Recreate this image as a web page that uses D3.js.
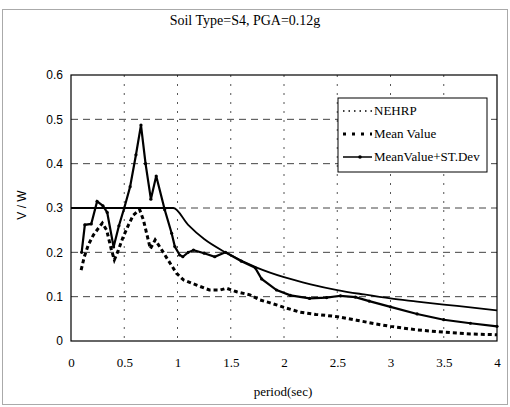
<!DOCTYPE html>
<html>
<head>
<meta charset="utf-8">
<script src="https://cdn.jsdelivr.net/npm/d3@7"></script>
<style>
  body { margin: 0; background: #fff; }
  svg { display: block; }
</style>
</head>
<body>
<script>
// Values
var xTicks = [0, 0.5, 1, 1.5, 2, 2.5, 3, 3.5, 4];
var yTicks = [0, 0.1, 0.2, 0.3, 0.4, 0.5, 0.6];

// NEHRP design spectrum
var nehrpT = [0, 0.96, 1.1, 1.25, 1.45, 1.75, 2, 2.25, 2.5, 2.75, 3, 3.25, 3.5, 3.75, 4];
var nehrpV = [0.3, 0.3, 0.262, 0.23, 0.2, 0.165, 0.144, 0.128, 0.115, 0.105, 0.096, 0.089, 0.082, 0.076, 0.069];

// Mean value
var meanT = [0.095, 0.125, 0.163, 0.21, 0.256, 0.294, 0.335, 0.38, 0.407, 0.445, 0.49, 0.54, 0.585, 0.645, 0.68, 0.71, 0.745, 0.79, 0.84, 0.9, 0.99, 1.055, 1.18, 1.3, 1.4, 1.46, 1.555, 1.68, 1.77, 1.87, 2.0, 2.15, 2.3, 2.5, 2.68, 2.85, 3.0, 3.25, 3.5, 3.75, 4.0];
var meanV = [0.16, 0.19, 0.217, 0.239, 0.254, 0.266, 0.25, 0.205, 0.183, 0.205, 0.235, 0.262, 0.284, 0.296, 0.273, 0.243, 0.208, 0.228, 0.21, 0.187, 0.153, 0.138, 0.126, 0.115, 0.115, 0.119, 0.111, 0.104, 0.093, 0.086, 0.076, 0.065, 0.06, 0.055, 0.047, 0.039, 0.033, 0.025, 0.02, 0.016, 0.014];

// Mean value + standard deviation
var meanStdT = [0.1, 0.13, 0.19, 0.245, 0.3, 0.34, 0.4, 0.45, 0.5, 0.555, 0.61, 0.657, 0.7, 0.75, 0.8, 0.88, 0.945, 0.975, 1.02, 1.05, 1.1, 1.15, 1.25, 1.35, 1.45, 1.6, 1.73, 1.79, 1.93, 2.06, 2.24, 2.4, 2.53, 2.67, 2.8, 3.0, 3.25, 3.5, 3.75, 4.0];
var meanStdV = [0.2, 0.262, 0.264, 0.315, 0.305, 0.29, 0.212, 0.26, 0.3, 0.348, 0.42, 0.487, 0.4, 0.32, 0.372, 0.296, 0.243, 0.213, 0.194, 0.19, 0.2, 0.205, 0.198, 0.19, 0.2, 0.18, 0.165, 0.14, 0.115, 0.103, 0.096, 0.098, 0.102, 0.099, 0.09, 0.077, 0.061, 0.048, 0.04, 0.033];

var legendLabels = ["NEHRP", "Mean Value", "MeanValue+ST.Dev"];

var width = 510, height = 407;
var margin = { top: 75, right: 13, bottom: 66, left: 71 };
var plotW = width - margin.left - margin.right,
    plotH = height - margin.top - margin.bottom;

var svg = d3.select("body").append("svg")
    .attr("width", width)
    .attr("height", height);

// outer chart frame
svg.append("rect")
    .attr("x", 2.5).attr("y", 9.5)
    .attr("width", 505).attr("height", 395)
    .attr("fill", "none")
    .attr("stroke", "#aaa")
    .attr("stroke-width", 1);

svg.append("text")
    .attr("x", 245).attr("y", 25)
    .attr("text-anchor", "middle")
    .style("font-family", "'Liberation Serif', serif")
    .style("font-size", "14px")
    .text("Soil Type=S4, PGA=0.12g");

var g = svg.append("g")
    .attr("transform", "translate(" + margin.left + "," + margin.top + ")");

var xScale = d3.scaleLinear().domain([0, 4]).range([0, plotW]);
var yScale = d3.scaleLinear().domain([0, 0.6]).range([plotH, 0]);

// grid lines
g.selectAll(".hgrid")
    .data(yTicks.slice(1, -1))
    .enter().append("line")
    .attr("x1", 0).attr("x2", plotW)
    .attr("y1", function (d) { return yScale(d); })
    .attr("y2", function (d) { return yScale(d); })
    .attr("stroke", "#444")
    .attr("stroke-width", 1)
    .attr("stroke-dasharray", "7,5");

g.selectAll(".vgrid")
    .data(xTicks.slice(1, -1))
    .enter().append("line")
    .attr("x1", function (d) { return xScale(d); })
    .attr("x2", function (d) { return xScale(d); })
    .attr("y1", 0).attr("y2", plotH)
    .attr("stroke", "#555")
    .attr("stroke-width", 1)
    .attr("stroke-dasharray", "2,7");

// axes
var xAxis = g.append("g")
    .attr("transform", "translate(0," + plotH + ")")
    .call(d3.axisBottom(xScale).tickValues(xTicks).tickFormat(d3.format("~g")).tickSize(0).tickPadding(17));
xAxis.select(".domain").remove();
xAxis.selectAll("text")
    .style("font-family", "'Liberation Serif', serif")
    .style("font-size", "13px");

var yAxis = g.append("g")
    .call(d3.axisLeft(yScale).tickValues(yTicks).tickFormat(d3.format("~g")).tickSize(0).tickPadding(8));
yAxis.select(".domain").remove();
yAxis.selectAll("text")
    .style("font-family", "'Liberation Sans', sans-serif")
    .style("font-size", "12px");

// plot frame
g.append("rect")
    .attr("x", 0).attr("y", 0)
    .attr("width", plotW).attr("height", plotH)
    .attr("fill", "none")
    .attr("stroke", "#000")
    .attr("stroke-width", 1.2);

svg.append("text")
    .attr("x", 283).attr("y", 396)
    .attr("text-anchor", "middle")
    .style("font-family", "'Liberation Serif', serif")
    .style("font-size", "13px")
    .text("period(sec)");

svg.append("text")
    .attr("transform", "translate(26,205) rotate(-90)")
    .attr("text-anchor", "middle")
    .style("font-family", "'Liberation Sans', sans-serif")
    .style("font-size", "12px")
    .text("V / W");

function pts(ts, vs) {
    return ts.map(function (t, i) { return [t, vs[i]]; });
}

var line = d3.line()
    .x(function (d) { return xScale(d[0]); })
    .y(function (d) { return yScale(d[1]); });

var plot = g.append("g");

plot.append("path")
    .datum(pts(nehrpT, nehrpV))
    .attr("d", line.curve(d3.curveMonotoneX))
    .attr("fill", "none")
    .attr("stroke", "#000")
    .attr("stroke-width", 1.8);

line.curve(d3.curveLinear);

plot.append("path")
    .datum(pts(meanT, meanV))
    .attr("d", line)
    .attr("fill", "none")
    .attr("stroke", "#000")
    .attr("stroke-width", 3)
    .attr("stroke-dasharray", "4,3");

plot.append("path")
    .datum(pts(meanStdT, meanStdV))
    .attr("d", line)
    .attr("fill", "none")
    .attr("stroke", "#000")
    .attr("stroke-width", 2.2);

plot.selectAll(".dot")
    .data(pts(meanStdT, meanStdV))
    .enter().append("circle")
    .attr("cx", function (d) { return xScale(d[0]); })
    .attr("cy", function (d) { return yScale(d[1]); })
    .attr("r", 1.6)
    .attr("fill", "#000");

// legend
var lg = svg.append("g").attr("transform", "translate(338,98)");
lg.append("rect")
    .attr("width", 149).attr("height", 74)
    .attr("fill", "#fff")
    .attr("stroke", "#000")
    .attr("stroke-width", 1);

var rowY = [13, 36, 59];
var styles = [
    { w: 1.5, dash: "1.5,4" },
    { w: 3, dash: "3,6" },
    { w: 1.5, dash: null }
];

legendLabels.forEach(function (lab, i) {
    var s = lg.append("line")
        .attr("x1", 5).attr("x2", 34)
        .attr("y1", rowY[i]).attr("y2", rowY[i])
        .attr("stroke", "#000")
        .attr("stroke-width", styles[i].w);
    if (styles[i].dash) s.attr("stroke-dasharray", styles[i].dash);
    if (i == 2) {
        lg.append("circle").attr("cx", 22).attr("cy", rowY[i]).attr("r", 1.8).attr("fill", "#000");
    }
    lg.append("text")
        .attr("x", 36).attr("y", rowY[i] + 4)
        .style("font-family", "'Liberation Serif', serif")
        .style("font-size", "13px")
        .text(lab);
});
</script>
</body>
</html>
